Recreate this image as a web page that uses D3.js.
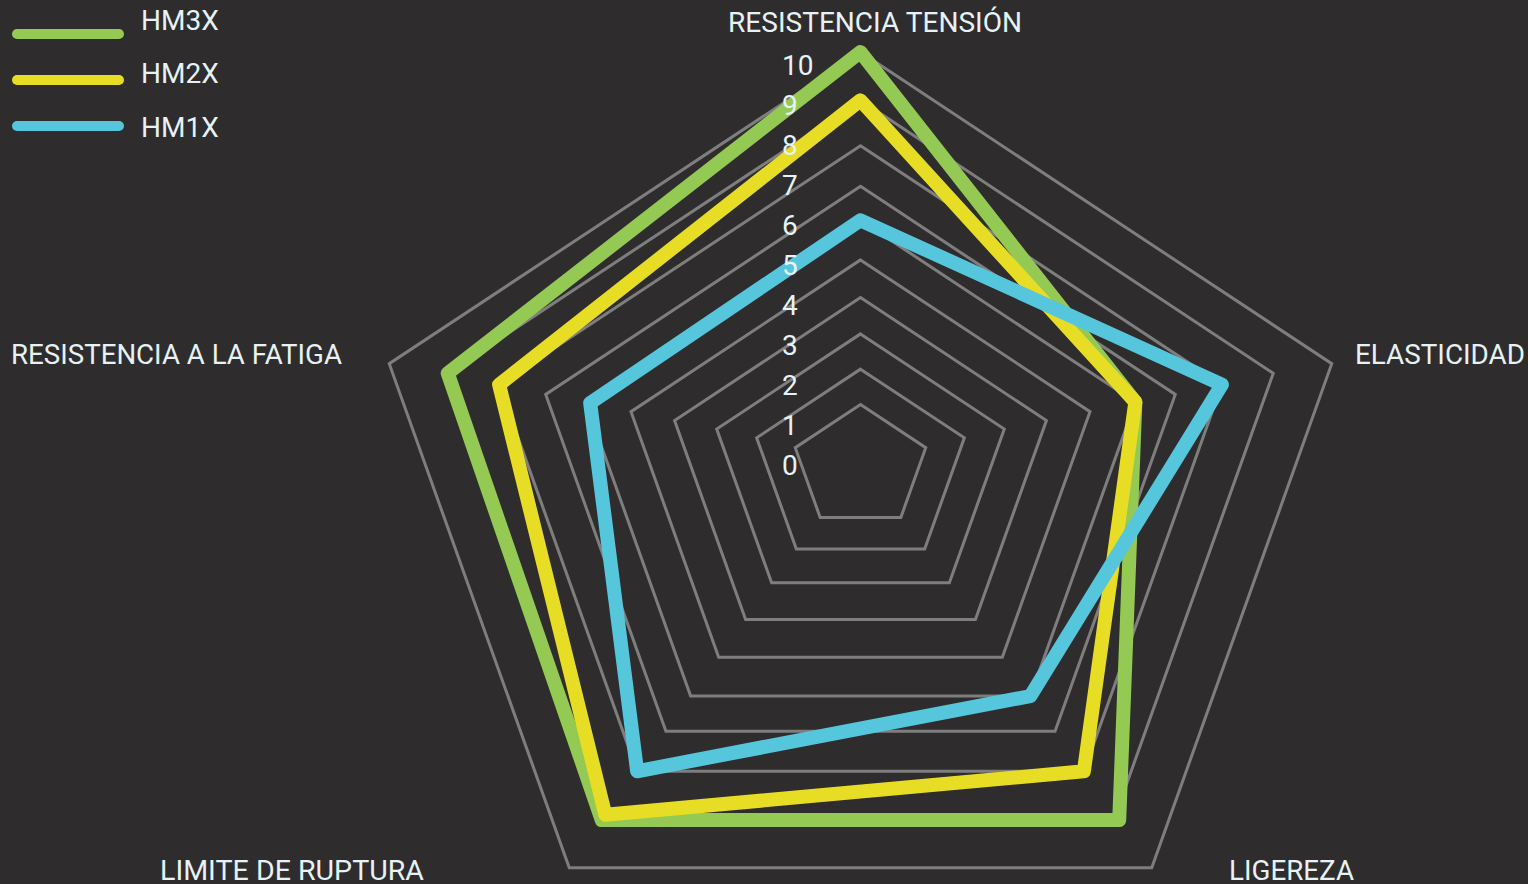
<!DOCTYPE html>
<html>
<head>
<meta charset="utf-8">
<script src="https://cdn.jsdelivr.net/npm/d3@7"></script>
<style>
  html, body { margin: 0; padding: 0; background: #2e2c2d; }
  svg { display: block; }
  text { font-family: Roboto, "Open Sans", sans-serif; font-weight: 400; fill: #e6f2f5; }
</style>
</head>
<body>
<div id="chart"></div>
<script>
// axes of the radar, clockwise from the top
const axes = ["RESISTENCIA TENSIÓN", "ELASTICIDAD", "LIGEREZA", "LIMITE DE RUPTURA", "RESISTENCIA A LA FATIGA"];
const seriesNames = ["HM3X", "HM2X", "HM1X"];
const hm3x = [10, 6, 9.1, 9.1, 9];
const hm2x = [9, 6, 8, 9, 8];
const hm1x = [6, 8, 6, 8, 5.9];
const tickValues = [0, 1, 2, 3, 4, 5, 6, 7, 8, 9, 10];
const seriesColors = ["#94c954", "#e8dd25", "#55c6dc"];

const width = 1528, height = 884;
const cx = 860.5;
const squash = 0.91;

// the rings are not evenly spaced and their centres drift down (tilted view),
// so radius and centre are piecewise scales of the value
const radius = d3.scaleLinear()
  .domain(tickValues)
  .range([28, 68.6, 109.2, 151.2, 195.5, 241.3, 289, 331, 380, 434, 495.5]);
const centerY = d3.scaleLinear()
  .domain(tickValues)
  .range([466, 467, 468.5, 471.5, 475.5, 479.5, 483.3, 487.5, 491.5, 495.3, 503]);
const angle = d3.scalePoint()
  .domain(axes)
  .range([0, (2 * Math.PI * 4) / 5]);

function project(v, i) {
  const a = angle(axes[i]);
  const r = radius(v);
  return [cx + r * Math.sin(a), centerY(v) - squash * r * Math.cos(a)];
}

const svg = d3.select("#chart")
  .append("svg")
  .attr("width", width)
  .attr("height", height);

const closed = d3.line().curve(d3.curveLinearClosed);

// grid rings 1..10
svg.append("g")
  .selectAll("path")
  .data(tickValues.slice(1))
  .join("path")
  .attr("d", (k) => closed(axes.map((_, i) => project(k, i))))
  .attr("fill", "none")
  .attr("stroke", "#7f7e7e")
  .attr("stroke-width", 3)
  .attr("stroke-linejoin", "miter");

// series polygons, green under yellow under blue
const series = [hm3x, hm2x, hm1x];
svg.append("g")
  .selectAll("path")
  .data(series)
  .join("path")
  .attr("d", (vals) => closed(vals.map((v, i) => project(v, i))))
  .attr("fill", "none")
  .attr("stroke", (d, i) => seriesColors[i])
  .attr("stroke-width", 14)
  .attr("stroke-linejoin", "round");

// tick labels on top of the lines
svg.append("g")
  .selectAll("text")
  .data(tickValues)
  .join("text")
  .attr("x", 782)
  .attr("y", (d) => 475 - 40 * d)
  .style("font-size", "28px")
  .text((d) => d);

// axis labels
const labelLayout = [
  { x: 875, y: 32, anchor: "middle", w: 294 },
  { x: 1355, y: 364, anchor: "start", w: 170 },
  { x: 1229, y: 880, anchor: "start", w: 125 },
  { x: 424, y: 880, anchor: "end", w: 264 },
  { x: 342, y: 364, anchor: "end", w: 331 },
];
svg.append("g")
  .selectAll("text")
  .data(axes)
  .join("text")
  .attr("x", (d, i) => labelLayout[i].x)
  .attr("y", (d, i) => labelLayout[i].y)
  .attr("text-anchor", (d, i) => labelLayout[i].anchor)
  .attr("textLength", (d, i) => labelLayout[i].w)
  .attr("lengthAdjust", "spacingAndGlyphs")
  .style("font-size", "28px")
  .text((d) => d);

// legend
const legendLineY = [34, 80, 126];
const legendTextY = [30, 83, 137];
const legend = svg.append("g");
legend.selectAll("line")
  .data(seriesNames)
  .join("line")
  .attr("x1", 17)
  .attr("x2", 119)
  .attr("y1", (d, i) => legendLineY[i])
  .attr("y2", (d, i) => legendLineY[i])
  .attr("stroke", (d, i) => seriesColors[i])
  .attr("stroke-width", 10)
  .attr("stroke-linecap", "round");
legend.selectAll("text")
  .data(seriesNames)
  .join("text")
  .attr("x", 141)
  .attr("y", (d, i) => legendTextY[i])
  .style("font-size", "28px")
  .text((d) => d);
</script>
</body>
</html>
